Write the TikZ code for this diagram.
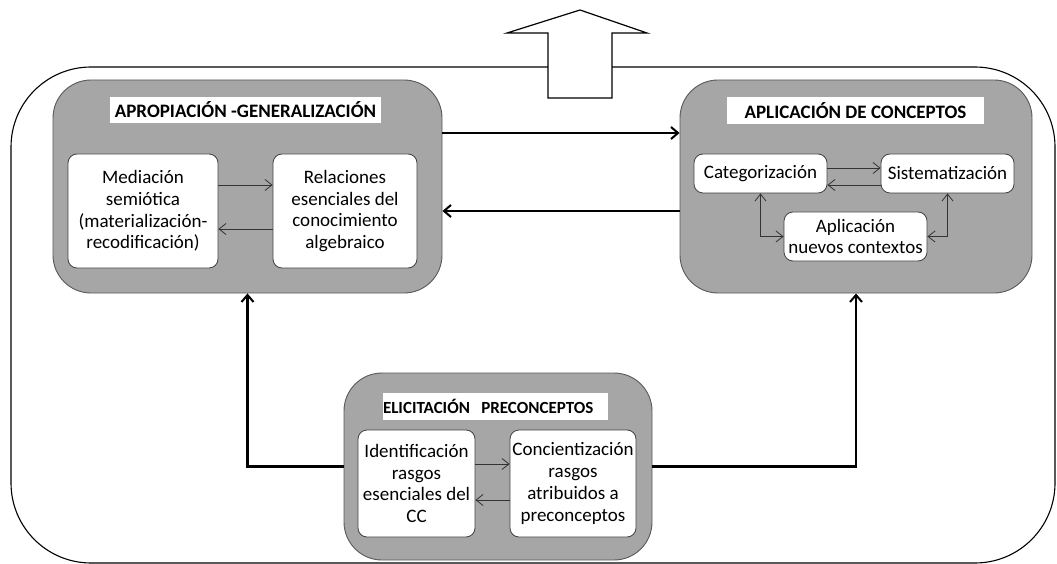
\documentclass[tikz,border=0pt]{standalone}
\usepackage{fontspec}
\setmainfont{Carlito}
\usetikzlibrary{arrows.meta}

\definecolor{stagegray}{HTML}{A6A6A6}
\definecolor{rimgray}{HTML}{595959}

\begin{document}
\begin{tikzpicture}[x=1pt,y=-1pt,
    outerframe/.style={draw=black, line width=1.1pt, rounded corners=80pt},
    stagebox/.style={draw=rimgray, fill=stagegray, line width=0.9pt, rounded corners=38pt},
    titlebox/.style={fill=white, inner sep=0pt, font=\fontsize{19}{21}\selectfont\bfseries},
    stepnode/.style={draw=black!75, fill=white, line width=0.8pt, rounded corners=9pt,
        align=center, inner sep=0pt, font=\fontsize{19}{21.8}\selectfont},
    thinarrow/.style={draw=black!80, line width=0.8pt, -{Straight Barb[length=7pt,width=11pt]}},
    bigarrow/.style={draw=black, line width=2.4pt, -{Straight Barb[length=7pt,width=12pt,line width=2pt]}}]
    \useasboundingbox (0,0) rectangle (1057,564);

    % outer frame and exit arrow
    \draw[outerframe] (11,67) rectangle (1055,563);
    \draw[fill=white, line width=1.2pt] (548,98) -- (548,33) -- (507,33) -- (580,10)
        -- (647,33) -- (612,33) -- (612,98) -- cycle;

    % stages
    \node[stagebox, minimum width=389pt, minimum height=213pt] (apro) at (247.5,186.5) {};
    \node[stagebox, minimum width=352pt, minimum height=213pt] (apli) at (856,186.5) {};
    \node[stagebox, minimum width=308pt, minimum height=187pt] (elic) at (498,466.5) {};

    \node[titlebox, minimum width=271pt, minimum height=26pt] (aproT) at (245.5,110) {APROPIACIÓN -GENERALIZACIÓN};
    \node[titlebox, minimum width=257pt, minimum height=27pt] (apliT) at (855.5,110.5) {APLICACIÓN DE CONCEPTOS};
    \node[titlebox, minimum height=27pt, text width=225pt, align=left,
        font=\fontsize{17}{20}\selectfont\bfseries] (elicT) at (495.5,406.5)
        {\mbox{ELICITACIÓN\ \ PRECONCEPTOS}};

    % steps of each stage
    \node[stepnode, minimum width=150pt, minimum height=114pt] (medi) at (143,211)
        {Mediación\\semiótica\\(materialización-\\recodificación)};
    \node[stepnode, minimum width=144pt, minimum height=114pt] (rela) at (345,211)
        {Relaciones\\esenciales del\\conocimiento\\algebraico};
    \node[stepnode, minimum width=133pt, minimum height=39pt] (cate) at (760.5,173.5) {Categorización};
    \node[stepnode, minimum width=133pt, minimum height=39pt] (sist) at (947.5,173.5) {Sistematización};
    \node[stepnode, minimum width=143pt, minimum height=49pt] (nuev) at (855.5,236.5) {Aplicación\\nuevos contextos};
    \node[stepnode, minimum width=117pt, minimum height=107pt] (iden) at (416.5,483.5)
        {Identificación\\rasgos\\esenciales del\\CC};
    \node[stepnode, minimum width=126pt, minimum height=107pt] (conc) at (573,483.5)
        {Concientización\\rasgos\\atribuidos a\\preconceptos};

    % thin connectors
    \draw[thinarrow] ([yshift=26pt]medi.east) -- ([yshift=26pt]rela.west);
    \draw[thinarrow] ([yshift=-18pt]rela.west) -- ([yshift=-18pt]medi.east);
    \draw[thinarrow] ([yshift=5.5pt]cate.east) -- ([yshift=5.5pt]sist.west);
    \draw[thinarrow] ([yshift=-11.5pt]sist.west) -- ([yshift=-11.5pt]cate.east);
    \draw[thinarrow, {Straight Barb[length=7pt,width=11pt]}-{Straight Barb[length=7pt,width=11pt]}] (cate.south) |- (nuev.west);
    \draw[thinarrow, {Straight Barb[length=7pt,width=11pt]}-{Straight Barb[length=7pt,width=11pt]}] (sist.south) |- (nuev.east);
    \draw[thinarrow] ([yshift=19.5pt]iden.east) -- ([yshift=19.5pt]conc.west);
    \draw[thinarrow] ([yshift=-16.5pt]conc.west) -- ([yshift=-16.5pt]iden.east);

    % thick connectors
    \draw[bigarrow] ([yshift=53.5pt]apro.east) -- ([yshift=53.5pt]apli.west);
    \draw[bigarrow] ([yshift=-24.5pt]apli.west) -- ([yshift=-24.5pt]apro.east);
    \draw[bigarrow] (elic.west) -| (apro.south);
    \draw[bigarrow] (elic.east) -| (apli.south);
\end{tikzpicture}
\end{document}
